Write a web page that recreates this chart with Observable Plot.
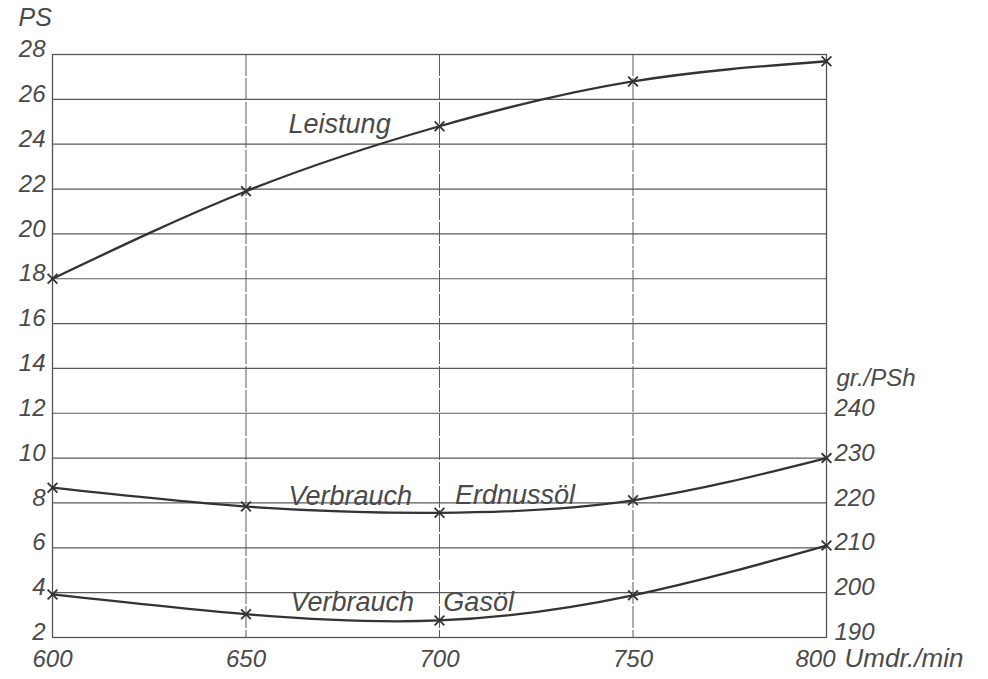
<!DOCTYPE html>
<html>
<head>
<meta charset="utf-8">
<script src="https://cdn.jsdelivr.net/npm/d3@7"></script>
<script src="https://cdn.jsdelivr.net/npm/@observablehq/plot@0.6"></script>
<style>
  html, body { margin: 0; padding: 0; background: #fff; }
  #chart svg { display: block; }
</style>
</head>
<body>
<div id="chart"></div>
<script>
// Data
const rpm        = [600, 650, 700, 750, 800];          // Umdr./min
const leistung   = [18.0, 21.9, 24.8, 26.8, 27.7];     // PS
const erdnussoel = [223.4, 219.2, 217.8, 220.6, 230.0]; // gr./PSh
const gasoel     = [199.6, 195.2, 193.8, 199.4, 210.5]; // gr./PSh

const psTicks  = [2, 4, 6, 8, 10, 12, 14, 16, 18, 20, 22, 24, 26, 28];
const grTicks  = [190, 200, 210, 220, 230, 240];
const rpmTicks = [600, 650, 700, 750];
const rpmEnd   = [800];
const gridRpm  = [650, 700, 750];

const labels = {
  ps: "PS", gr: "gr./PSh", unit: "Umdr./min",
  leistung: "Leistung", verbrauch: "Verbrauch", erdnuss: "Erdnussöl", gas: "Gasöl"
};

// right axis (gr./PSh) shares the PS scale: 190 ↔ 2 PS, 5 gr. per PS
const toPS = v => 2 + (v - 190) / 5;

const rows = (ys, conv = d => d) => rpm.map((x, i) => ({x, y: conv(ys[i])}));
const dLeistung = rows(leistung);
const dErd = rows(erdnussoel, toPS);
const dGas = rows(gasoel, toPS);

const ink = "#333";
const txt = "#4a4a4a";
const font = "'Liberation Sans', Arial, sans-serif";
const lineOpts = {x: "x", y: "y", curve: "natural", stroke: ink, strokeWidth: 2.3};
const dotOpts = {x: "x", y: "y", symbol: "times", r: 4.5, stroke: ink, strokeWidth: 1.8};
const labOpts = {textAnchor: "start", lineAnchor: "bottom", fill: txt, fontSize: 27, fontStyle: "italic"};

const chart = Plot.plot({
  width: 988,
  height: 679,
  marginLeft: 52,
  marginRight: 162,
  marginTop: 54,
  marginBottom: 42,
  style: {fontFamily: font, fontStyle: "italic", fontSize: "24px", color: txt, background: "#fff"},
  x: {domain: [600, 800]},
  y: {domain: [2, 28]},
  marks: [
    Plot.gridY(psTicks, {stroke: "#5a5a5a", strokeOpacity: 1, strokeWidth: 1.2}),
    Plot.gridX(gridRpm, {stroke: "#5a5a5a", strokeOpacity: 1, strokeWidth: 1, strokeDasharray: "22,2"}),
    Plot.frame({stroke: "#555", strokeWidth: 1.3}),
    Plot.axisY(psTicks, {anchor: "left", tickSize: 0, tickPadding: 7, label: null, fill: txt, dy: -5}),
    Plot.axisY(grTicks.map(toPS), {anchor: "right", tickSize: 0, tickPadding: 8, label: null, fill: txt, dy: -5,
      tickFormat: (d, i) => grTicks[i]}),
    Plot.axisX(rpmTicks, {anchor: "bottom", tickSize: 0, tickPadding: 12, label: null, fill: txt, tickFormat: d => d}),
    Plot.axisX(rpmEnd, {anchor: "bottom", tickSize: 0, tickPadding: 12, label: null, fill: txt, tickFormat: d => d, dx: -11}),
    Plot.text([labels.unit], {x: () => 800, frameAnchor: "bottom", dx: 18, dy: 11, lineAnchor: "top", textAnchor: "start", fill: txt, fontSize: 26, letterSpacing: "1.5px"}),
    Plot.text([labels.ps], {frameAnchor: "top-left", dx: -34, dy: -29, lineAnchor: "bottom", textAnchor: "start", fill: txt, fontSize: 25}),
    Plot.text([labels.gr], {x: () => 800, y: () => toPS(240), dx: 10, dy: -27, lineAnchor: "bottom", textAnchor: "start", fill: txt, fontSize: 24}),

    Plot.line(dLeistung, lineOpts),
    Plot.line(dErd, lineOpts),
    Plot.line(dGas, lineOpts),
    Plot.dot(dLeistung, dotOpts),
    Plot.dot(dErd, dotOpts),
    Plot.dot(dGas, dotOpts),

    Plot.text([labels.leistung], {...labOpts, x: () => 661, y: () => 24.5}),
    Plot.text([labels.verbrauch], {...labOpts, x: () => 661, y: () => 7.9}),
    Plot.text([labels.erdnuss], {...labOpts, x: () => 704, y: () => 7.95}),
    Plot.text([labels.verbrauch], {...labOpts, x: () => 661.5, y: () => 3.2}),
    Plot.text([labels.gas], {...labOpts, x: () => 701, y: () => 3.2})
  ]
});
document.getElementById("chart").append(chart);
</script>
</body>
</html>
